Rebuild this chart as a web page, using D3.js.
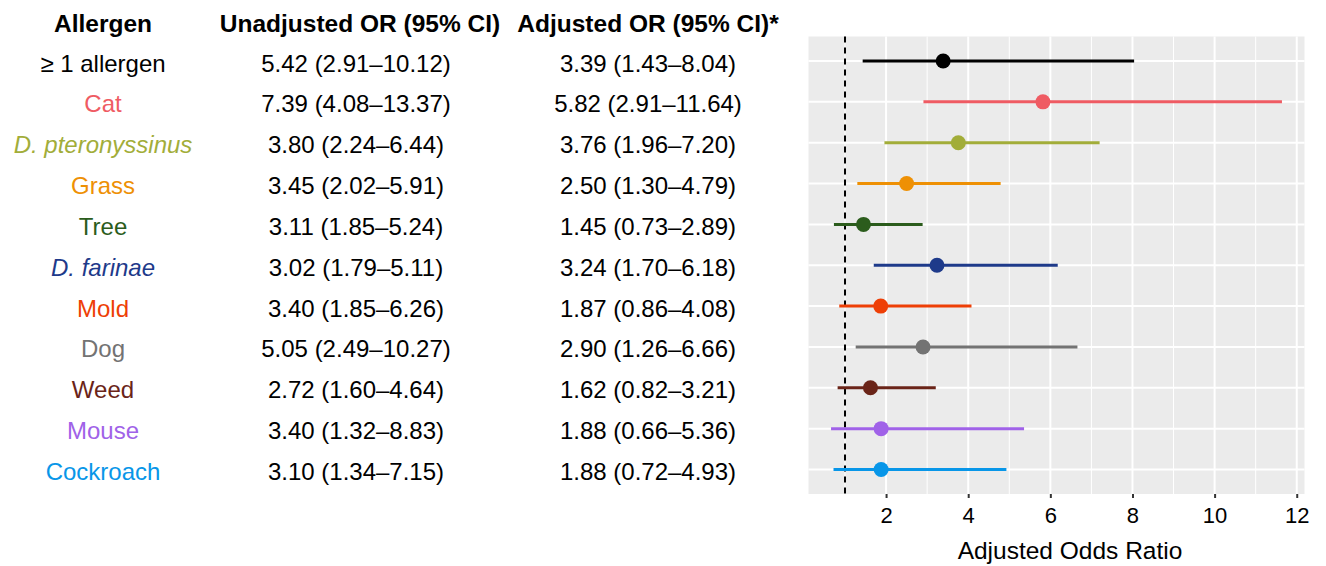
<!DOCTYPE html>
<html>
<head>
<meta charset="utf-8">
<script src="https://cdn.jsdelivr.net/npm/d3@7"></script>
<style>
  html, body { margin: 0; padding: 0; background: #fff; }
  svg { display: block; font-family: "Liberation Sans", Arial, Helvetica, sans-serif; }
</style>
</head>
<body>
<svg id="chart" width="1326" height="566"></svg>
<script>
// ---- data ----
const categories = ["≥ 1 allergen", "Cat", "D. pteronyssinus", "Grass", "Tree", "D. farinae", "Mold", "Dog", "Weed", "Mouse", "Cockroach"];
const italicCats = ["D. pteronyssinus", "D. farinae"];
const colors = ["#000000", "#EF5B63", "#A2AD39", "#EE9004", "#2B5C1C", "#1E3A8A", "#EE3F06", "#737373", "#6A2418", "#A062E8", "#0896E8"];
const unadjOR   = [5.42, 7.39, 3.80, 3.45, 3.11, 3.02, 3.40, 5.05, 2.72, 3.40, 3.10];
const unadjLow  = [2.91, 4.08, 2.24, 2.02, 1.85, 1.79, 1.85, 2.49, 1.60, 1.32, 1.34];
const unadjHigh = [10.12, 13.37, 6.44, 5.91, 5.24, 5.11, 6.26, 10.27, 4.64, 8.83, 7.15];
const adjOR     = [3.39, 5.82, 3.76, 2.50, 1.45, 3.24, 1.87, 2.90, 1.62, 1.88, 1.88];
const adjLow    = [1.43, 2.91, 1.96, 1.30, 0.73, 1.70, 0.86, 1.26, 0.82, 0.66, 0.72];
const adjHigh   = [8.04, 11.64, 7.20, 4.79, 2.89, 6.18, 4.08, 6.66, 3.21, 5.36, 4.93];
const headers = ["Allergen", "Unadjusted OR (95% CI)", "Adjusted OR (95% CI)*"];
const xTicks = [2, 4, 6, 8, 10, 12];
const xMinor = [1, 3, 5, 7, 9, 11];
const refLine = 1;
const xTitle = "Adjusted Odds Ratio";

// ---- layout ----
const svg = d3.select("#chart");
const panel = { left: 808.5, right: 1304.5, top: 36.5, bottom: 494 };

const x = d3.scaleLinear().domain([0.111, 12.189]).range([panel.left, panel.right]);
const y = d3.scalePoint().domain(categories).range([panel.top, panel.bottom]).padding(0.6);

const rows = categories.map((c, i) => ({
  cat: c, color: colors[i],
  uo: unadjOR[i], ul: unadjLow[i], uh: unadjHigh[i],
  ao: adjOR[i], al: adjLow[i], ah: adjHigh[i]
}));

// panel background
svg.append("rect")
  .attr("x", panel.left).attr("y", panel.top)
  .attr("width", panel.right - panel.left).attr("height", panel.bottom - panel.top)
  .attr("fill", "#EBEBEB");

// minor vertical grid
svg.append("g").selectAll("line").data(xMinor).join("line")
  .attr("x1", d => x(d)).attr("x2", d => x(d))
  .attr("y1", panel.top).attr("y2", panel.bottom)
  .attr("stroke", "#fff").attr("stroke-width", 1);

// major vertical grid
svg.append("g").selectAll("line").data(xTicks).join("line")
  .attr("x1", d => x(d)).attr("x2", d => x(d))
  .attr("y1", panel.top).attr("y2", panel.bottom)
  .attr("stroke", "#fff").attr("stroke-width", 2);

// horizontal grid
svg.append("g").selectAll("line").data(categories).join("line")
  .attr("x1", panel.left).attr("x2", panel.right)
  .attr("y1", d => y(d)).attr("y2", d => y(d))
  .attr("stroke", "#fff").attr("stroke-width", 2);

// reference line
svg.append("line")
  .attr("x1", x(refLine)).attr("x2", x(refLine))
  .attr("y1", panel.top).attr("y2", panel.bottom)
  .attr("stroke", "#000").attr("stroke-width", 2)
  .attr("stroke-dasharray", "6,5");

// CI lines
svg.append("g").selectAll("line").data(rows).join("line")
  .attr("x1", d => x(d.al)).attr("x2", d => x(d.ah))
  .attr("y1", d => y(d.cat)).attr("y2", d => y(d.cat))
  .attr("stroke", d => d.color).attr("stroke-width", 3);

// points
svg.append("g").selectAll("circle").data(rows).join("circle")
  .attr("cx", d => x(d.ao)).attr("cy", d => y(d.cat))
  .attr("r", 7.5).attr("fill", d => d.color);

// x axis
const axis = svg.append("g")
  .attr("transform", `translate(0,${panel.bottom})`)
  .call(d3.axisBottom(x).tickValues(xTicks).tickSize(4).tickPadding(5).tickFormat(d3.format("d")));
axis.select(".domain").remove();
axis.selectAll(".tick line").attr("stroke", "#333").attr("stroke-width", 2);
axis.selectAll(".tick text")
  .attr("font-size", 22).attr("fill", "#000")
  .attr("font-family", "'Liberation Sans', Arial, sans-serif")
  .attr("dy", null).attr("y", 28.5);

// x title
svg.append("text")
  .attr("x", 1070).attr("y", 559.3)
  .attr("text-anchor", "middle")
  .attr("font-size", 24.5).attr("fill", "#000")
  .text(xTitle);

// table
const colX = [103, 356, 648];
const headX = [103, 360, 648];
svg.append("g").selectAll("text").data(headers).join("text")
  .attr("x", (d, i) => headX[i]).attr("y", 31.5)
  .attr("text-anchor", "middle")
  .attr("font-size", 24.5).attr("font-weight", "bold").attr("fill", "#000")
  .text(d => d);

const fmt = (o, l, h) => `${o.toFixed(2)} (${l.toFixed(2)}\u2013${h.toFixed(2)})`;

const tbl = svg.append("g");
tbl.selectAll("text.cat").data(rows).join("text")
  .attr("class", "cat")
  .attr("x", colX[0]).attr("y", d => y(d.cat) + 10.5)
  .attr("text-anchor", "middle").attr("font-size", 24)
  .attr("font-style", d => italicCats.includes(d.cat) ? "italic" : "normal")
  .attr("fill", d => d.color)
  .text(d => d.cat);

tbl.selectAll("text.un").data(rows).join("text")
  .attr("class", "un")
  .attr("x", colX[1]).attr("y", d => y(d.cat) + 10.5)
  .attr("text-anchor", "middle").attr("font-size", 24).attr("fill", "#000")
  .text(d => fmt(d.uo, d.ul, d.uh));

tbl.selectAll("text.ad").data(rows).join("text")
  .attr("class", "ad")
  .attr("x", colX[2]).attr("y", d => y(d.cat) + 10.5)
  .attr("text-anchor", "middle").attr("font-size", 24).attr("fill", "#000")
  .text(d => fmt(d.ao, d.al, d.ah));
</script>
</body>
</html>
